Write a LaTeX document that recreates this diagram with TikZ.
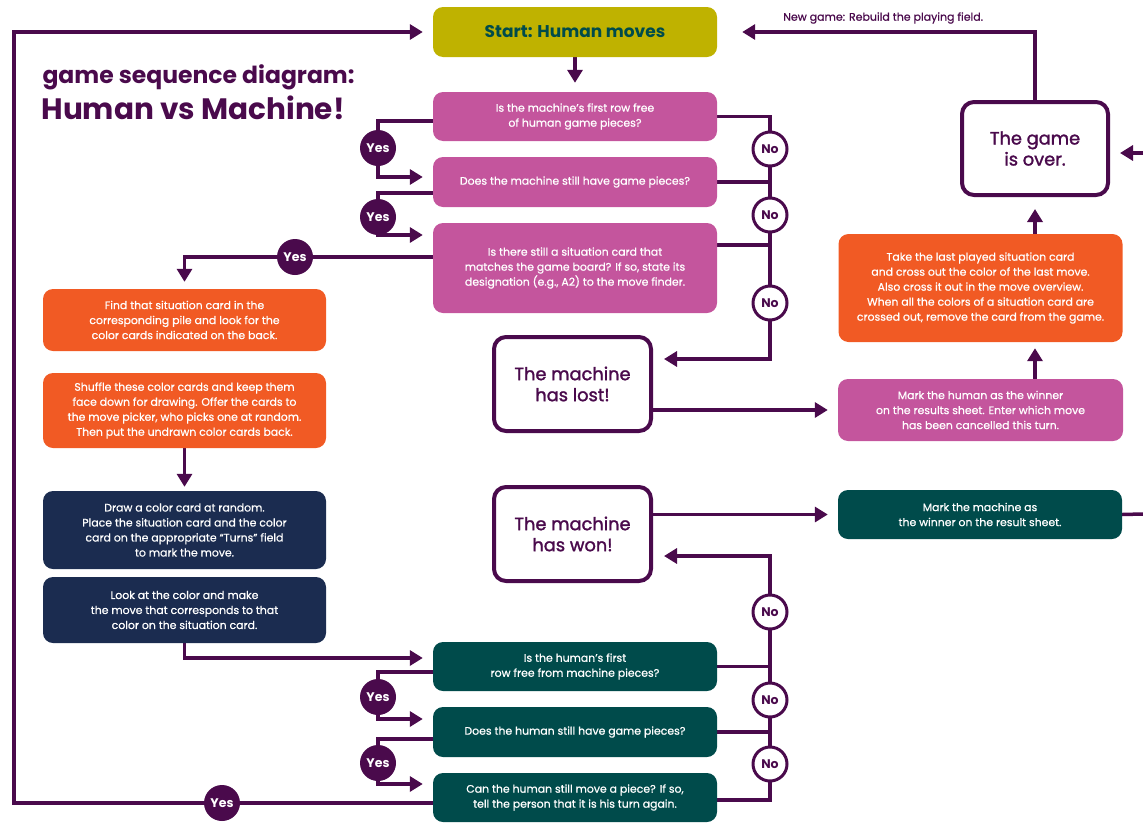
\documentclass[tikz,border=0pt]{standalone}
\usepackage{fontspec}
\setmainfont{Poppins}
\newfontfamily\medfont{Poppins}[FakeBold=0.7]
\newfontfamily\semifont{Poppins}[FakeBold=1.6]
\usetikzlibrary{arrows.meta,backgrounds}
\definecolor{plum}{HTML}{4A0A4C}
\definecolor{pinkc}{HTML}{C4559D}
\definecolor{orangec}{HTML}{F15A24}
\definecolor{olivec}{HTML}{BFB200}
\definecolor{tealc}{HTML}{004B4B}
\definecolor{navyc}{HTML}{1B2C50}
\begin{document}
\begin{tikzpicture}[x=1pt,y=-1pt,
  card/.style={rounded corners=10pt, text=white, align=center, inner sep=0pt,
    font=\medfont\fontsize{10.9}{15}\selectfont},
  pinkcard/.style={card, fill=pinkc},
  orangecard/.style={card, fill=orangec},
  navycard/.style={card, fill=navyc},
  tealcard/.style={card, fill=tealc},
  endbox/.style={draw=plum, line width=4pt, rounded corners=12pt, fill=white,
    text=plum, align=center, inner sep=0pt, font=\semifont\fontsize{17.8}{21}\selectfont},
  yesdot/.style={circle, fill=plum, text=white, minimum size=36pt, inner sep=0pt,
    font=\fontsize{12.5}{12.5}\selectfont\bfseries},
  nodot/.style={circle, draw=plum, line width=3pt, fill=white, text=plum,
    minimum size=34pt, inner sep=0pt, font=\fontsize{12.5}{12.5}\selectfont\bfseries},
  conn/.style={draw=plum, line width=3.5pt},
  arr/.style={conn, -{Triangle[length=13pt,width=15pt]}}]
\useasboundingbox (0,0) rectangle (1143,822);

% title
\node[anchor=west, text=plum, font=\fontsize{23.5}{23.5}\selectfont\bfseries] (title1) at (39,77) {game sequence diagram:};
\node[anchor=west, text=plum, font=\fontsize{29.5}{29.5}\selectfont\bfseries] (title2) at (38,108) {Human vs Machine!};

% start
\node[card, fill=olivec, text=tealc, minimum width=284pt, minimum height=50pt,
  font=\fontsize{17}{17}\selectfont\bfseries] (start) at (575,32) {Start: Human moves};

% machine questions
\node[pinkcard, minimum width=284pt, minimum height=49pt] (q1) at (575,116.5)
  {Is the machine’s first row free\\of human game pieces?};
\node[pinkcard, minimum width=284pt, minimum height=50pt] (q2) at (575,182)
  {Does the machine still have game pieces?};
\node[pinkcard, minimum width=284pt, minimum height=90pt] (q3) at (575,268)
  {Is there still a situation card that\\matches the game board? If so, state its\\designation (e.g., A2) to the move finder.};

% left column
\node[orangecard, minimum width=283pt, minimum height=62pt] (o1) at (184.5,320)
  {Find that situation card in the\\corresponding pile and look for the\\color cards indicated on the back.};
\node[orangecard, minimum width=283pt, minimum height=75pt] (o2) at (184.5,410.5)
  {Shuffle these color cards and keep them\\face down for drawing. Offer the cards to\\the move picker, who picks one at random.\\Then put the undrawn color cards back.};
\node[navycard, minimum width=283pt, minimum height=78pt] (n1) at (184.5,530)
  {Draw a color card at random.\\Place the situation card and the color\\card on the appropriate “Turns” field\\to mark the move.};
\node[navycard, minimum width=283pt, minimum height=66pt] (n2) at (184.5,610)
  {Look at the color and make\\the move that corresponds to that\\color on the situation card.};

% human questions
\node[tealcard, minimum width=284pt, minimum height=49pt] (g1) at (575,666.5)
  {Is the human’s first\\row free from machine pieces?};
\node[tealcard, minimum width=284pt, minimum height=50pt] (g2) at (575,732)
  {Does the human still have game pieces?};
\node[tealcard, minimum width=284pt, minimum height=49pt] (g3) at (575,797.5)
  {Can the human still move a piece? If so,\\tell the person that it is his turn again.};

% outcomes
\node[endbox, minimum width=157pt, minimum height=94pt] (lost) at (572.5,384) {The machine\\has lost!};
\node[endbox, minimum width=157pt, minimum height=94pt] (mw) at (572.5,534) {The machine\\has won!};
\node[endbox, minimum width=146pt, minimum height=93pt] (go) at (1035,148.5) {The game\\is over.};

% right column
\node[orangecard, minimum width=284pt, minimum height=108pt] (orr) at (980.5,288)
  {Take the last played situation card\\and cross out the color of the last move.\\Also cross it out in the move overview.\\When all the colors of a situation card are\\crossed out, remove the card from the game.};
\node[pinkcard, minimum width=285pt, minimum height=62pt] (hw) at (980.5,410)
  {Mark the human as the winner\\on the results sheet. Enter which move\\has been cancelled this turn.};
\node[tealcard, minimum width=284pt, minimum height=49pt] (mwin) at (980,514.5)
  {Mark the machine as\\the winner on the result sheet.};

\node[anchor=west, text=plum, inner sep=0pt, font=\medfont\fontsize{11}{11}\selectfont] (newgame) at (783,18)
  {New game: Rebuild the playing field.};

% decision markers
\node[yesdot] (y1) at (378,148) {Yes};
\node[yesdot] (y2) at (378,217) {Yes};
\node[yesdot] (y3) at (295,257) {Yes};
\node[yesdot] (y4) at (378,697) {Yes};
\node[yesdot] (y5) at (378,763) {Yes};
\node[yesdot] (y6) at (222,803) {Yes};
\node[nodot] (nA) at (770,149) {No};
\node[nodot] (nB) at (770,215) {No};
\node[nodot] (nC) at (770,303) {No};
\node[nodot] (nD) at (770,612) {No};
\node[nodot] (nE) at (770,700) {No};
\node[nodot] (nF) at (770,764) {No};

\coordinate (lt) at (14,32);
\coordinate (edgeA) at (1143,153);
\coordinate (edgeB) at (1143,514);

\begin{pgfonlayer}{background}
  % loop back to the start
  \draw[arr, shorten >=10pt] ([yshift=-5.5pt]g3.west) -| (lt) -- (start.west);
  \draw[arr, shorten >=9pt] (start.south) -- (q1.north);
  \draw[arr, shorten >=25pt] (go.north) |- (start.east);
  \draw[arr, shorten >=10pt] (edgeA) -- (edgeA -| go.east);

  % machine checks
  \draw[arr, shorten >=10pt] ([yshift=-4.5pt]q1.west) -| (y1.center) |- ([yshift=5pt]q2.west);
  \draw[arr, shorten >=10pt] ([yshift=-11pt]q2.west) -| (y2.center) |- ([yshift=33pt]q3.west);
  \draw[arr, shorten >=7pt] ([yshift=11pt]q3.west) -| (o1.north);
  \draw[arr, shorten >=11pt] (q1.east) -| (nC.center) |- ([yshift=25pt]lost.east);
  \draw[conn] (q2.east) -- (q2.east -| nB);
  \draw[conn] ([yshift=23pt]q3.east) -- ([yshift=23pt]q3.east -| nB);

  % machine has lost
  \draw[arr, shorten >=10pt] (hw.west -| lost.east) -- (hw.west);
  \draw[arr, shorten >=6pt] (go.south |- hw.north) -- (go.south |- orr.south);
  \draw[arr, shorten >=12pt] (go.south |- orr.north) -- (go.south);

  % machine move
  \draw[arr, shorten >=4pt] (o2.south) -- (n1.north);
  \draw[arr, shorten >=10pt] (n2.south) |- ([yshift=8.5pt]g1.west);

  % human checks
  \draw[arr, shorten >=10pt] ([yshift=-5.5pt]g1.west) -| (y4.center) |- ([yshift=13pt]g2.west);
  \draw[arr, shorten >=10pt] ([yshift=-7pt]g2.west) -| (y5.center) |- ([yshift=13.5pt]g3.west);
  \draw[arr, shorten >=11pt] ([yshift=-2.5pt]g3.east) -| (nD.center) |- ([yshift=-22pt]mw.east);
  \draw[conn] (g1.east) -- (g1.east -| nD);
  \draw[conn] (g2.east) -- (g2.east -| nD);

  % machine has won
  \draw[arr, shorten >=10pt] (mwin.west -| mw.east) -- (mwin.west);
  \draw[conn] (mwin.east) -- (edgeB);
\end{pgfonlayer}
\end{tikzpicture}
\end{document}
